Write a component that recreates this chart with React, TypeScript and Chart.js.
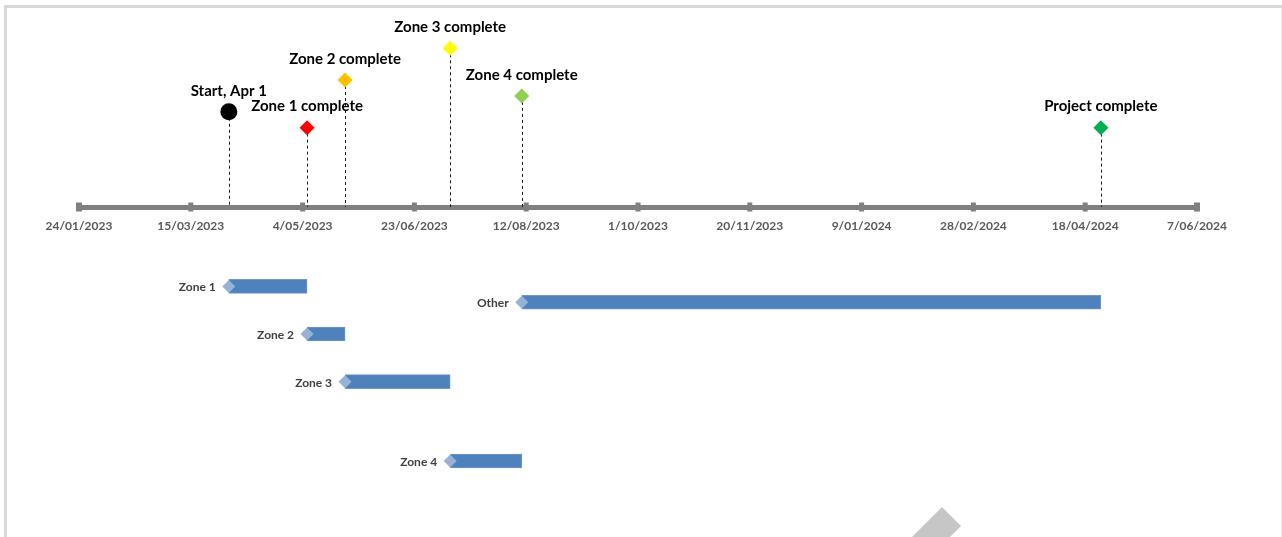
import { useEffect, useRef } from 'react';
import { Chart, registerables } from 'chart.js';

Chart.register(...registerables);

// ---- Data ----
const AXIS_START = '2023-01-24';
const AXIS_END = '2024-06-07';
const TICK_STEP_DAYS = 50;

const milestoneLabels = ['Start, Apr 1', 'Zone 1 complete', 'Zone 2 complete', 'Zone 3 complete', 'Zone 4 complete', 'Project complete'];
const milestoneDates = ['2023-04-01', '2023-05-06', '2023-05-23', '2023-07-09', '2023-08-10', '2024-04-25'];
const milestoneHeights = [6, 5, 8, 10, 7, 5];
const milestoneColors = ['#000000', '#FF0000', '#FFC000', '#FFFF00', '#92D050', '#00B050'];
const milestoneShapes = ['circle', 'rectRot', 'rectRot', 'rectRot', 'rectRot', 'rectRot'];

const taskNames = ['Zone 1', 'Other', 'Zone 2', 'Zone 3', 'Zone 4'];
const taskStarts = ['2023-04-01', '2023-08-10', '2023-05-06', '2023-05-23', '2023-07-09'];
const taskEnds = ['2023-05-06', '2024-04-25', '2023-05-23', '2023-07-09', '2023-08-10'];
const taskRows = [-5, -6, -8, -11, -16];

// ---- Helpers ----
const DAY = 86400000;
const base = Date.parse(AXIS_START + 'T00:00:00Z');
const dayOf = (s: string) => Math.round((Date.parse(s + 'T00:00:00Z') - base) / DAY);
const fmtDay = (v: number) => {
  const d = new Date(base + v * DAY);
  const mm = String(d.getUTCMonth() + 1).padStart(2, '0');
  return `${d.getUTCDate()}/${mm}/${d.getUTCFullYear()}`;
};

const FONT = 'Lato, "Open Sans", sans-serif';

const timelinePlugin = {
  id: 'timelineDecor',
  beforeDraw(chart: any) {
    const { ctx, width, height } = chart;
    ctx.save();
    ctx.fillStyle = '#ffffff';
    ctx.fillRect(0, 0, width, height);
    // frame
    ctx.fillStyle = '#d9d9d9';
    ctx.fillRect(4, 5, width - 4, 3);
    ctx.fillRect(4, 5, 3, height - 5);
    ctx.fillStyle = '#ececec';
    ctx.fillRect(width - 1, 8, 1, height - 8);
    ctx.restore();
  },
  beforeDatasetsDraw(chart: any) {
    const { ctx, scales } = chart;
    const xs = scales.x;
    const ys = scales.y;
    const y0 = ys.getPixelForValue(0);
    ctx.save();
    // drop lines
    ctx.strokeStyle = '#1a1a1a';
    ctx.lineWidth = 1;
    ctx.setLineDash([3, 3]);
    milestoneDates.forEach((d, i) => {
      const px = Math.round(xs.getPixelForValue(dayOf(d))) + 0.5;
      const py = ys.getPixelForValue(milestoneHeights[i]);
      ctx.beginPath();
      ctx.moveTo(px, py);
      ctx.lineTo(px, y0);
      ctx.stroke();
    });
    ctx.setLineDash([]);
    // tick squares
    ctx.fillStyle = '#808080';
    xs.ticks.forEach((t: any, i: number) => {
      const px = xs.getPixelForValue(t.value);
      const end = i === 0 || i === xs.ticks.length - 1;
      const w = end ? 6 : 5;
      ctx.fillRect(px - w / 2, y0 - 4.5, w, 9);
    });
    ctx.restore();
  },
  afterDatasetsDraw(chart: any) {
    const { ctx, scales } = chart;
    const xs = scales.x;
    const ys = scales.y;
    ctx.save();
    ctx.textBaseline = 'middle';
    // milestone labels
    ctx.font = `bold 15px ${FONT}`;
    ctx.fillStyle = '#000000';
    ctx.textAlign = 'center';
    milestoneLabels.forEach((lab, i) => {
      const px = xs.getPixelForValue(dayOf(milestoneDates[i]));
      const py = ys.getPixelForValue(milestoneHeights[i]);
      ctx.fillText(lab, px, py - 21);
    });
    // task labels
    ctx.font = `bold 12px ${FONT}`;
    ctx.fillStyle = '#404040';
    ctx.textAlign = 'right';
    taskNames.forEach((lab, i) => {
      const px = xs.getPixelForValue(dayOf(taskStarts[i]));
      const py = ys.getPixelForValue(taskRows[i]);
      ctx.fillText(lab, px - 13, py + 1);
    });
    ctx.restore();
  },
  afterDraw(chart: any) {
    const { ctx } = chart;
    ctx.save();
    ctx.fillStyle = '#c6c6c6';
    ctx.beginPath();
    ctx.moveTo(942, 507);
    ctx.lineTo(961, 526);
    ctx.lineTo(921, 566);
    ctx.lineTo(902, 547);
    ctx.closePath();
    ctx.fill();
    ctx.restore();
  },
};

export default function App() {
  const ref = useRef<HTMLCanvasElement | null>(null);

  useEffect(() => {
    if (!ref.current) return;
    const chart = new Chart(ref.current, {
      type: 'scatter',
      data: {
        datasets: [
          {
            type: 'scatter',
            label: 'Milestones',
            data: milestoneDates.map((d, i) => ({ x: dayOf(d), y: milestoneHeights[i] })),
            pointStyle: milestoneShapes as any,
            pointRadius: milestoneShapes.map((s) => (s === 'circle' ? 8.5 : 7.5)),
            pointBackgroundColor: milestoneColors,
            pointBorderColor: milestoneColors,
            pointBorderWidth: 0,
            order: 0,
          } as any,
          {
            type: 'scatter',
            label: 'Task starts',
            data: taskStarts.map((d, i) => ({ x: dayOf(d), y: taskRows[i] })),
            pointStyle: 'rectRot',
            pointRadius: 6.5,
            pointBackgroundColor: '#95B3D7',
            pointBorderWidth: 0,
            order: 1,
          } as any,
          {
            type: 'bar',
            label: 'Tasks',
            indexAxis: 'y',
            data: taskNames.map((_, i) => ({ x: [dayOf(taskStarts[i]), dayOf(taskEnds[i])], y: taskRows[i] })),
            backgroundColor: '#4F81BD',
            borderColor: '#6F98CC',
            borderWidth: 1,
            borderSkipped: false,
            barThickness: 14,
            order: 2,
          } as any,
        ],
      },
      options: {
        animation: false,
        responsive: false,
        devicePixelRatio: 1,
        layout: { padding: { left: 79, right: 85, top: 16.5, bottom: 60.125 } },
        plugins: { legend: { display: false }, tooltip: { enabled: false }, title: { display: false } },
        scales: {
          x: {
            type: 'linear',
            position: { y: 0 } as any,
            min: 0,
            max: dayOf(AXIS_END),
            offset: false,
            grid: { display: false, drawTicks: false },
            border: { display: true, width: 5, color: '#808080' },
            ticks: {
              stepSize: TICK_STEP_DAYS,
              autoSkip: false,
              maxRotation: 0,
              padding: 12,
              color: '#595959',
              font: { family: FONT, size: 12, weight: 'bold' },
              callback: (v: any) => fmtDay(Number(v)),
            },
          },
          y: {
            type: 'linear',
            display: false,
            min: -17,
            max: 12,
            offset: false,
            grid: { display: false, offset: false },
          },
        },
      } as any,
      plugins: [timelinePlugin],
    });
    return () => chart.destroy();
  }, []);

  return (
    <canvas
      ref={ref}
      width={1282}
      height={537}
      style={{ position: 'fixed', left: 0, top: 0, width: 1282, height: 537 }}
    />
  );
}
